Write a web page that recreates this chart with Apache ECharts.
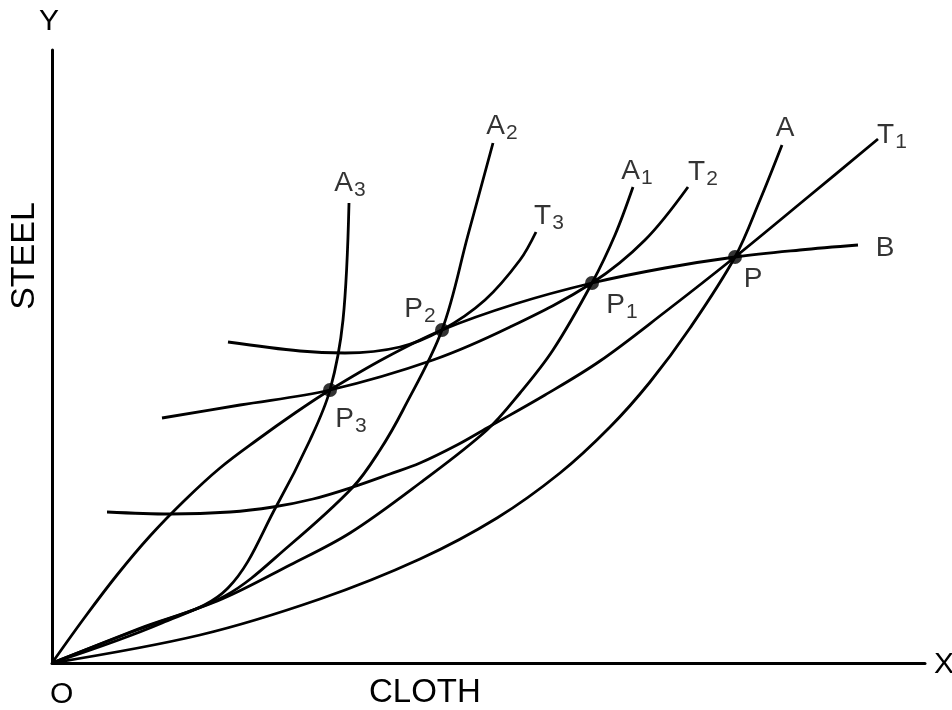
<!DOCTYPE html>
<html lang="en">
<head>
  <meta charset="utf-8"/>
  <title>Tariff retaliation - offer curves</title>
  <script src="https://cdn.jsdelivr.net/npm/echarts@6/dist/echarts.min.js"></script>
  <style>
    html, body { margin: 0; padding: 0; background: #fff; }
    #chart { width: 952px; height: 710px; }
  </style>
</head>
<body>
<div id="chart"></div>
<script>
  // values (cloth on x, steel on y, same unit on both)
  var curveB  = [[0,0],[33,46],[65,88],[98,127],[133,163],[168,195],[205,223],[243,250],[278,273],
                 [333,305],[390,333],[463,359],[540,380],[613,395],[683,406],[748,413],[806,418]];
  var curveA  = [[0,0],[148,28],[268,64],[368,104],[445,145],[508,190],[558,236],[598,281],
                 [638,335],[683,406],[708,463],[730,518]];
  var curveA1 = [[0,0],[85,33],[170,64],[238,98],[298,130],[368,180],[435,233],[468,270],
                 [501,313],[540,380],[563,428],[581,476]];
  var curveA2 = [[0,0],[86,34],[173,67],[238,118],[301,176],[328,213],[351,253],[390,333],[416,428],[441,520]];
  var curveA3 = [[0,0],[110,40],[176,75],[225,158],[258,223],[278,273],[291,343],[297,460]];
  var curveT1 = [[55,151],[118,149],[178,151],[221,156],[261,164],[301,176],[338,189],[368,200],
                 [405,218],[435,235],[493,268],[548,302],[613,351],[683,406],[756,466],[826,524]];
  var curveT2 = [[110,245],[188,258],[278,273],[381,303],[458,336],[540,380],[593,423],[636,476]];
  var curveT3 = [[176,321],[248,312],[293,310],[348,316],[390,333],[433,363],[468,403],[484,431]];

  var eqNames  = ['P', 'P1', 'P2', 'P3'];
  var eqPoints = [[683,406],[540,380],[390,333],[278,273]];

  var xMax = 873, yMax = 613;
  var FONT = '"Liberation Sans", Arial, Helvetica, sans-serif';

  // label text, with the digit as a subscript
  function sub(name) {
    var m = name.match(/^([A-Z])(\d?)$/);
    return m[2] ? '{m|' + m[1] + '}{s|' + m[2] + '}' : '{m|' + m[1] + '}';
  }
  var rich = {
    m: { fontSize: 28, fontFamily: FONT, color: '#000' },
    s: { fontSize: 21, fontFamily: FONT, color: '#000', padding: [14, 0, 0, 1] }
  };

  function curve(name, data) {
    return {
      name: name,
      type: 'line',
      data: data,
      smooth: 0.35,
      showSymbol: false,
      symbol: 'none',
      silent: true,
      lineStyle: { color: '#000', width: 2.8 },
      z: 2
    };
  }

  var curves = [
    ['A', curveA, [3, -17]], ['A1', curveA1, [4, -16]], ['A2', curveA2, [9, -17]],
    ['A3', curveA3, [1, -20]], ['T1', curveT1, [14, -4]], ['T2', curveT2, [15, -15]],
    ['T3', curveT3, [13, -16]], ['B', curveB, [27, 3]]
  ];

  var series = curves.map(function (c) { return curve(c[0], c[1]); });

  // curve names, at each curve's end
  series.push({
    type: 'scatter',
    symbolSize: 0,
    silent: true,
    data: curves.map(function (c) {
      return {
        value: c[1][c[1].length - 1],
        label: { show: true, position: 'inside', offset: c[2], formatter: sub(c[0]), rich: rich }
      };
    }),
    z: 3
  });

  // the equilibrium points
  var eqOffsets = [[18, 22], [30, 22], [-22, -21], [21, 29]];
  series.push({
    type: 'scatter',
    symbol: 'circle',
    symbolSize: 14,
    silent: true,
    itemStyle: { color: '#000' },
    data: eqPoints.map(function (p, i) {
      return {
        value: p,
        label: { show: true, position: 'inside', offset: eqOffsets[i], formatter: sub(eqNames[i]), rich: rich }
      };
    }),
    z: 4
  });

  var chart = echarts.init(document.getElementById('chart'));
  chart.setOption({
    backgroundColor: '#fff',
    animation: false,
    grid: { left: 52, top: 50, width: xMax, height: yMax },
    xAxis: {
      type: 'value', min: 0, max: xMax,
      axisLine: { show: true, lineStyle: { color: '#000', width: 3 } },
      axisTick: { show: false }, axisLabel: { show: false }, splitLine: { show: false }
    },
    yAxis: {
      type: 'value', min: 0, max: yMax,
      axisLine: { show: true, lineStyle: { color: '#000', width: 3 } },
      axisTick: { show: false }, axisLabel: { show: false }, splitLine: { show: false }
    },
    graphic: [
      { type: 'text', left: 39, top: 7, style: { text: 'Y', font: '30px ' + FONT, fill: '#000' } },
      { type: 'text', left: 934, top: 650, style: { text: 'X', font: '30px ' + FONT, fill: '#000' } },
      { type: 'text', left: 50, top: 680, style: { text: 'O', font: '30px ' + FONT, fill: '#000' } },
      { type: 'text', left: 369, top: 676, style: { text: 'CLOTH', font: '33px ' + FONT, fill: '#000' } },
      {
        type: 'text', x: 25, y: 256, rotation: Math.PI / 2,
        style: { text: 'STEEL', font: '34px ' + FONT, fill: '#000', align: 'center', verticalAlign: 'middle' }
      }
    ],
    series: series
  });
</script>
</body>
</html>
